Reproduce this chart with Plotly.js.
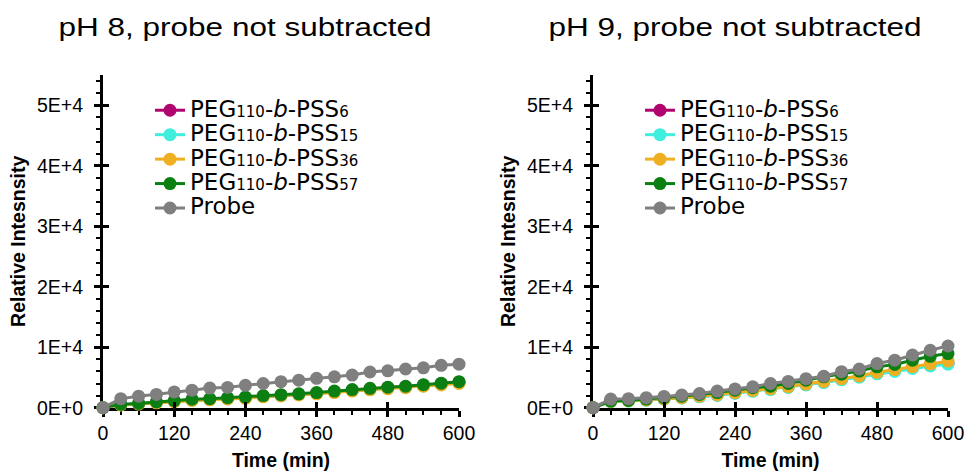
<!DOCTYPE html>
<html>
<head>
<meta charset="utf-8">
<script src="https://cdn.plot.ly/plotly-3.0.1.min.js"></script>
<style>
html,body{margin:0;padding:0;background:#fff;}
#chart{width:969px;height:471px;}
#chart text.annotation-text{transform-box:fill-box;transform-origin:50% 50%;transform:scaleX(1.26);}
</style>
</head>
<body>
<div id="chart"></div>
<script>
// ---- data ----
var time = [0,30,60,90,120,150,180,210,240,270,300,330,360,390,420,450,480,510,540,570,600];

var BIG = '<span style="font-size:23px">';
var SUB = '<span style="font-size:15px">';
var seriesNames = [
  BIG + 'PEG' + SUB + '110</span>-<i>b</i>-PSS' + SUB + '6</span></span>',
  BIG + 'PEG' + SUB + '110</span>-<i>b</i>-PSS' + SUB + '15</span></span>',
  BIG + 'PEG' + SUB + '110</span>-<i>b</i>-PSS' + SUB + '36</span></span>',
  BIG + 'PEG' + SUB + '110</span>-<i>b</i>-PSS' + SUB + '57</span></span>',
  BIG + 'Probe</span>'
];
var seriesColors = ['#B0046E', '#40EEDD', '#EFAF22', '#0B7F12', '#7F7F7F'];

// pH 8
var pss6_ph8  = [0,500,650,900,1100,1300,1400,1550,1650,1900,2050,2200,2400,2650,2900,3100,3300,3450,3700,3950,4200];
var pss15_ph8 = [0,500,650,850,1050,1250,1350,1500,1650,1850,2000,2150,2350,2600,2800,3000,3200,3350,3600,3850,4100];
var pss36_ph8 = [0,450,600,800,1000,1200,1300,1450,1550,1800,1950,2100,2300,2500,2750,2950,3150,3300,3550,3750,4000];
var pss57_ph8 = [0,550,700,950,1150,1400,1500,1650,1750,2000,2150,2300,2500,2750,3000,3200,3400,3550,3800,4050,4300];
var probe_ph8 = [0,1500,1900,2200,2600,2900,3250,3350,3700,4000,4300,4550,4850,5100,5400,5900,6100,6400,6600,7000,7200];

// pH 9
var pss6_ph9  = [0,1100,1200,1300,1450,1650,1850,2100,2450,2800,3100,3450,3850,4250,4700,5150,5700,6150,6650,7050,7400];
var pss15_ph9 = [0,1000,1100,1250,1400,1600,1800,2050,2400,2700,3000,3350,3750,4150,4600,5050,5600,6000,6500,6900,7200];
var pss36_ph9 = [0,1050,1150,1300,1450,1650,1900,2150,2500,2850,3150,3500,3900,4350,4800,5250,5850,6300,6800,7250,7700];
var pss57_ph9 = [0,1100,1200,1430,1650,1900,2200,2500,2900,3300,3550,4000,4550,5100,5550,6050,6750,7150,7850,8500,8950];
var probe_ph9 = [0,1430,1500,1650,1870,2100,2350,2750,3100,3450,4000,4350,4800,5200,5950,6400,7300,7850,8700,9500,10200];

var xTickVals = [0,120,240,360,480,600];
var yTickVals = [0,10000,20000,30000,40000,50000];
var yTickText = ['0E+0','1E+4','2E+4','3E+4','4E+4','5E+4'];
var panelTitles = ['pH 8, probe not subtracted', 'pH 9, probe not subtracted'];
var xTitle = 'Time (min)';
var yTitle = 'Relative Intesnsity';

// ---- build ----
var ph8 = [pss6_ph8, pss15_ph8, pss36_ph8, pss57_ph8, probe_ph8];
var ph9 = [pss6_ph9, pss15_ph9, pss36_ph9, pss57_ph9, probe_ph9];
var traces = [];
function addPanel(vals, xa, ya, leg) {
  for (var i = 0; i < vals.length; i++) {
    traces.push({
      type: 'scatter', mode: 'lines+markers',
      x: time, y: vals[i], xaxis: xa, yaxis: ya, legend: leg,
      name: seriesNames[i],
      line: {color: seriesColors[i], width: 3},
      marker: {color: seriesColors[i], size: 13},
      cliponaxis: false
    });
  }
}
addPanel(ph8, 'x', 'y', 'legend');
addPanel(ph9, 'x2', 'y2', 'legend2');
// carriers for the inward-tick overlay axes
traces.push({type:'scatter', x:[], y:[], xaxis:'x3', yaxis:'y3', showlegend:false, hoverinfo:'skip'});
traces.push({type:'scatter', x:[], y:[], xaxis:'x4', yaxis:'y4', showlegend:false, hoverinfo:'skip'});

var tickFont = {family: 'Liberation Sans, Arial, sans-serif', size: 19.5, color: '#000'};
var titleFont = {family: 'Liberation Sans, Arial, sans-serif', size: 19.5, color: '#000', weight: 'bold'};

function xAxis(domain, anchor) {
  return {
    domain: domain, anchor: anchor, range: [0, 600],
    tickmode: 'array', tickvals: xTickVals,
    ticks: 'outside', ticklen: 6, tickwidth: 3, tickcolor: '#000',
    minor: {dtick: 30, tick0: 0, ticks: 'outside', ticklen: 4, tickwidth: 2, tickcolor: '#000', showgrid: false},
    showline: true, linecolor: '#000', linewidth: 3,
    showgrid: false, zeroline: false, layer: 'below traces',
    tickfont: tickFont, ticklabelstandoff: 0,
    title: {text: xTitle, font: titleFont, standoff: 12}
  };
}
function yAxis(domain, anchor) {
  return {
    domain: domain, anchor: anchor, range: [0, 55000],
    tickmode: 'array', tickvals: yTickVals, ticktext: yTickText,
    ticks: 'outside', ticklen: 6, tickwidth: 3, tickcolor: '#000',
    minor: {dtick: 2000, tick0: 0, ticks: 'outside', ticklen: 4, tickwidth: 2, tickcolor: '#000', showgrid: false},
    showline: true, linecolor: '#000', linewidth: 3,
    showgrid: false, zeroline: false, layer: 'below traces',
    tickfont: tickFont, ticklabelstandoff: 7,
    title: {text: yTitle, font: titleFont, standoff: 7}
  };
}
function overlayX(over, anchor, domain) {
  return {overlaying: over, anchor: anchor, domain: domain, range: [0, 600],
    tickmode: 'array', tickvals: xTickVals, ticks: 'inside', ticklen: 6, tickwidth: 3, tickcolor: '#000',
    showticklabels: false, showline: false, showgrid: false, zeroline: false};
}
function overlayY(over, anchor, domain) {
  return {overlaying: over, anchor: anchor, domain: domain, range: [0, 55000],
    tickmode: 'array', tickvals: yTickVals, ticks: 'inside', ticklen: 6, tickwidth: 3, tickcolor: '#000',
    showticklabels: false, showline: false, showgrid: false, zeroline: false};
}

var W = 969, H = 471;
var xd1 = [103/W, 459/W], xd2 = [593/W, 948/W];
var yd = [1 - 407.7/H, 1 - 75/H];

// legend.font.size sets the row pitch; the entries themselves are drawn larger via span
var legendFont = {family: 'DejaVu Sans, Verdana, sans-serif', size: 16.5, color: '#000'};
var layout = {
  width: W, height: H,
  margin: {l: 0, r: 0, t: 0, b: 0},
  paper_bgcolor: '#fff', plot_bgcolor: 'rgba(0,0,0,0)',
  showlegend: true,
  xaxis: xAxis(xd1, 'y'), yaxis: yAxis(yd, 'x'),
  xaxis2: xAxis(xd2, 'y2'), yaxis2: yAxis(yd, 'x2'),
  xaxis3: overlayX('x', 'y3', xd1), yaxis3: overlayY('y', 'x3', yd),
  xaxis4: overlayX('x2', 'y4', xd2), yaxis4: overlayY('y2', 'x4', yd),
  legend: {x: 150/W, y: 1 - 93/H, xanchor: 'left', yanchor: 'top', bgcolor: 'rgba(0,0,0,0)',
    font: legendFont, tracegroupgap: 0, itemwidth: 30},
  legend2: {x: 640/W, y: 1 - 93/H, xanchor: 'left', yanchor: 'top', bgcolor: 'rgba(0,0,0,0)',
    font: legendFont, tracegroupgap: 0, itemwidth: 30},
  annotations: [
    {text: panelTitles[0], xref: 'paper', yref: 'paper', x: 245/W, y: 1 - 27/H, xanchor: 'center', yanchor: 'middle',
     showarrow: false, font: {family: 'Liberation Sans, Arial, sans-serif', size: 25, color: '#000'}},
    {text: panelTitles[1], xref: 'paper', yref: 'paper', x: 735/W, y: 1 - 27/H, xanchor: 'center', yanchor: 'middle',
     showarrow: false, font: {family: 'Liberation Sans, Arial, sans-serif', size: 25, color: '#000'}}
  ]
};

Plotly.newPlot('chart', traces, layout, {staticPlot: true, displayModeBar: false});
</script>
</body>
</html>
